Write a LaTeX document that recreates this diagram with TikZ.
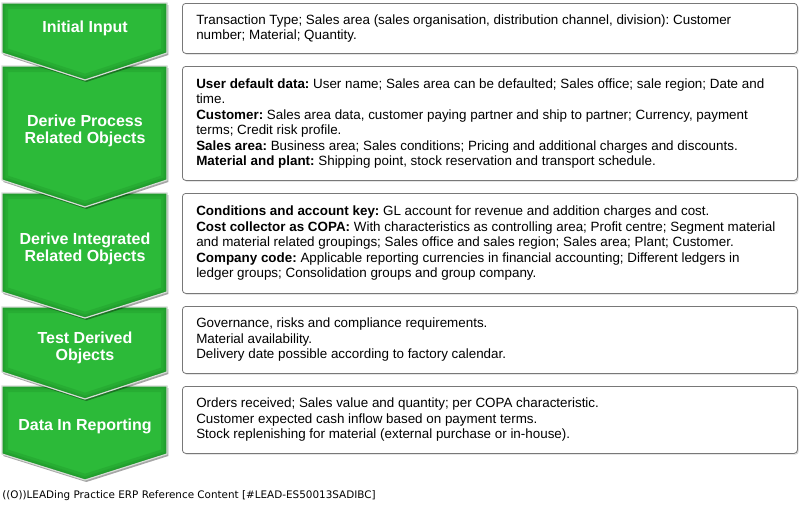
\documentclass[tikz,border=0pt]{standalone}
\usepackage{fontspec}
\setmainfont{Liberation Sans}
\newfontfamily\footfont{DejaVu Sans}
\usetikzlibrary{shadows}

\definecolor{chevgreen}{RGB}{44,186,57}
\definecolor{chevdark}{RGB}{22,130,34}
\definecolor{chevrim}{RGB}{215,220,215}
\definecolor{boxline}{RGB}{120,120,120}

\tikzset{
  chevshadow/.style={fill=black, opacity=0.35, transform canvas={shift={(1pt,-1.5pt)}}},
  chevfill/.style={fill=chevgreen},
  chevglow/.style={draw=chevdark, line width=#1, opacity=0.22},
  chevrimline/.style={draw=chevrim, line width=0.9},
  chevlabel/.style={text=white, font=\fontsize{12}{13.2}\selectfont\bfseries, align=center, inner sep=0pt},
  infobox/.style={draw=boxline, line width=0.6, rounded corners=2.5pt, fill=white, anchor=north west,
    minimum width=461.25pt, inner sep=0pt,
    drop shadow={shadow xshift=1pt, shadow yshift=-1pt, opacity=0.3}},
  infotext/.style={anchor=west, align=left, inner sep=0pt, font=\fontsize{10.05}{11.6}\selectfont}
}
\newcommand{\chevpath}[3]{(2,#1) -- (167,#1) -- (167,#2) -- (85,#3) -- (2,#2) -- cycle}

\begin{document}
\frenchspacing
\begin{tikzpicture}[x=0.75pt,y=0.75pt,yscale=-1,xscale=1]
        \useasboundingbox (0,0) rectangle (800,504);

        %Shape: Chevrons, bottom one first so each tip lies over the next
        \foreach \top/\side/\tip in {386/454/480, 307/372/399, 193/292/318, 66/180/207, 3/53/80} {
          \path [chevshadow] \chevpath{\top}{\side}{\tip} ;
          \begin{scope}
            \clip \chevpath{\top}{\side}{\tip} ;
            \path [chevfill] \chevpath{\top}{\side}{\tip} ;
            \path [chevglow=9] \chevpath{\top}{\side}{\tip} ;
            \path [chevglow=5] \chevpath{\top}{\side}{\tip} ;
            \path [chevglow=2.5] \chevpath{\top}{\side}{\tip} ;
          \end{scope}
          \path [chevrimline] \chevpath{\top}{\side}{\tip} ;
        }

        % Text Node
        \node [chevlabel] (input) at (85,28) {Initial Input};
        % Text Node
        \node [chevlabel] (process) at (85,131) {Derive Process\\Related Objects};
        % Text Node
        \node [chevlabel] (integrated) at (85,249) {Derive Integrated\\Related Objects};
        % Text Node
        \node [chevlabel] (test) at (85,348) {Test Derived\\Objects};
        % Text Node
        \node [chevlabel] (reporting) at (85,426) {Data In Reporting};

        %Shape: Boxes
        \node [infobox, minimum height=37.5pt] (inputbox) at (182,3) {};
        \node [infobox, minimum height=85.5pt] (processbox) at (182,66) {};
        \node [infobox, minimum height=75pt] (integratedbox) at (182,193) {};
        \node [infobox, minimum height=50.25pt] (testbox) at (182,306) {};
        \node [infobox, minimum height=50.25pt] (reportingbox) at (182,386) {};

        % Text Node
        \node [infotext] (inputtext) at ([xshift=10.5pt]inputbox.west)
          {Transaction Type; Sales area (sales organisation, distribution channel, division): Customer\\
           number; Material; Quantity.};
        % Text Node
        \node [infotext] (processtext) at ([xshift=10.5pt]processbox.west)
          {\textbf{User default data:} User name; Sales area can be defaulted; Sales office; sale region; Date and\\
           time.\\
           \textbf{Customer:} Sales area data, customer paying partner and ship to partner; Currency, payment\\
           terms; Credit risk profile.\\
           \textbf{Sales area:} Business area; Sales conditions; Pricing and additional charges and discounts.\\
           \textbf{Material and plant:} Shipping point, stock reservation and transport schedule.};
        % Text Node
        \node [infotext] (integratedtext) at ([xshift=10.5pt]integratedbox.west)
          {\textbf{Conditions and account key:} GL account for revenue and addition charges and cost.\\
           \textbf{Cost collector as COPA:} With characteristics as controlling area; Profit centre; Segment material\\
           and material related groupings; Sales office and sales region; Sales area; Plant; Customer.\\
           \textbf{Company code:} Applicable reporting currencies in financial accounting; Different ledgers in\\
           ledger groups; Consolidation groups and group company.};
        % Text Node
        \node [infotext] (testtext) at ([xshift=10.5pt]testbox.west)
          {Governance, risks and compliance requirements.\\
           Material availability.\\
           Delivery date possible according to factory calendar.};
        % Text Node
        \node [infotext] (reportingtext) at ([xshift=10.5pt]reportingbox.west)
          {Orders received; Sales value and quantity; per COPA characteristic.\\
           Customer expected cash inflow based on payment terms.\\
           Stock replenishing for material (external purchase or in-house).};

        % Text Node
        \node [anchor=base west, inner sep=0pt, font=\footfont\fontsize{7.8}{8.6}\selectfont] (footer) at (2,498)
          {((O))LEADing Practice ERP Reference Content [\#LEAD-ES50013SADIBC]};

\end{tikzpicture}
\end{document}
